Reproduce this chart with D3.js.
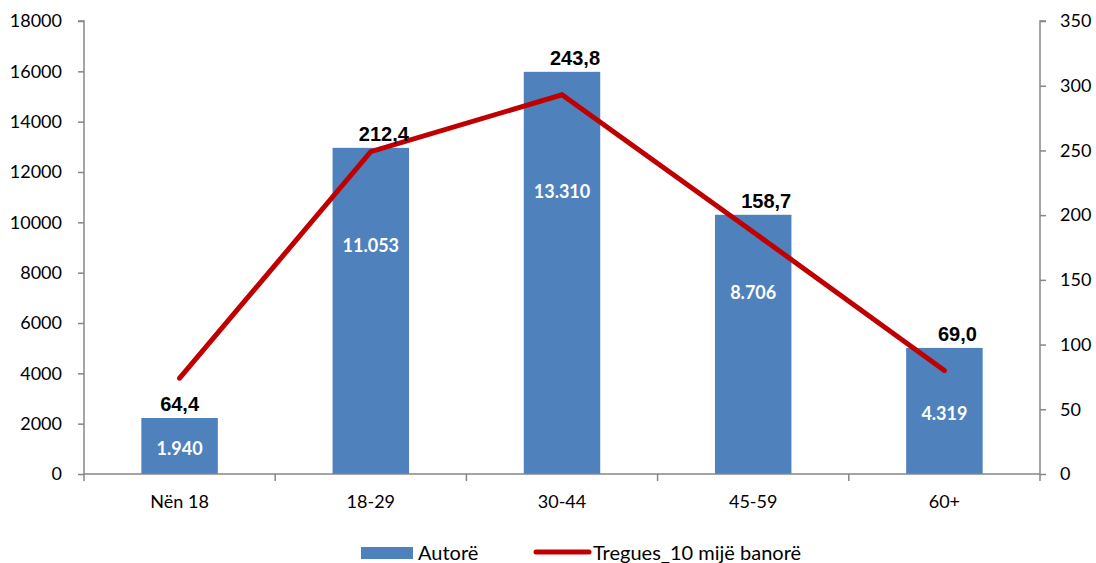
<!DOCTYPE html>
<html>
<head>
<meta charset="utf-8">
<script src="https://cdn.jsdelivr.net/npm/d3@7"></script>
<style>
  body { margin: 0; background: #fff; }
  svg { display: block; }
</style>
</head>
<body>
<script>
// chart data
var categories = ["Nën 18", "18-29", "30-44", "45-59", "60+"];
var autore = [2225, 12960, 15980, 10300, 5010];          // bar heights as drawn
var autoreLabels = ["1.940", "11.053", "13.310", "8.706", "4.319"];
var tregues = [74, 249, 293, 187, 80];                    // line points as drawn
var treguesLabels = ["64,4", "212,4", "243,8", "158,7", "69,0"];
var leftTicks = [0, 2000, 4000, 6000, 8000, 10000, 12000, 14000, 16000, 18000];
var rightTicks = [0, 50, 100, 150, 200, 250, 300, 350];

var width = 1096;
var height = 563;
var plotLeft = 84, plotRight = 1040, plotTop = 21, plotBottom = 474;
var axisColor = "#868686";
var font = "Lato, 'Open Sans', sans-serif";

var svg = d3.select("body").append("svg")
    .attr("width", width)
    .attr("height", height);

var x = d3.scaleBand()
    .domain(categories)
    .range([plotLeft, plotRight])
    .paddingInner(0.6)
    .paddingOuter(0.3);

var yLeft = d3.scaleLinear().domain([0, 18000]).range([plotBottom, plotTop]);
var yRight = d3.scaleLinear().domain([0, 350]).range([plotBottom, plotTop]);

// bars
svg.selectAll("rect.bar")
    .data(autore)
    .enter().append("rect")
    .attr("class", "bar")
    .attr("x", function(d, i) { return x(categories[i]); })
    .attr("y", function(d) { return yLeft(d); })
    .attr("width", x.bandwidth())
    .attr("height", function(d) { return plotBottom - yLeft(d); })
    .attr("fill", "#4F81BD");

// white labels inside bars
svg.selectAll("text.inner")
    .data(autore)
    .enter().append("text")
    .attr("class", "inner")
    .attr("x", function(d, i) { return x(categories[i]) + x.bandwidth() / 2; })
    .attr("y", function(d) {
        var h = plotBottom - yLeft(d);
        if (h > 200) return yLeft(d) + h * 0.3 + 6;
        return yLeft(d) + h / 2 + 9;
    })
    .attr("text-anchor", "middle")
    .attr("font-family", font)
    .attr("font-weight", "bold")
    .attr("font-size", 18)
    .attr("fill", "#ffffff")
    .text(function(d, i) { return autoreLabels[i]; });

// axes
var gLeft = svg.append("g")
    .attr("transform", "translate(" + plotLeft + ",0)")
    .call(d3.axisLeft(yLeft).tickValues(leftTicks).tickSize(6).tickPadding(16).tickFormat(d3.format("d")));

var gRight = svg.append("g")
    .attr("transform", "translate(" + plotRight + ",0)")
    .call(d3.axisRight(yRight).tickValues(rightTicks).tickSize(6).tickPadding(14));

var gBottom = svg.append("g")
    .attr("transform", "translate(0," + plotBottom + ")")
    .call(d3.axisBottom(x).tickSize(0).tickPadding(21));

[gLeft, gRight, gBottom].forEach(function(g) {
    g.select(".domain").attr("stroke", axisColor).attr("stroke-width", 1.5);
    g.selectAll(".tick line").attr("stroke", axisColor).attr("stroke-width", 1.5);
    g.selectAll(".tick text")
        .attr("fill", "#000")
        .attr("font-family", font)
        .attr("font-size", 18);
});
gLeft.select(".domain").attr("d", "M0," + plotBottom + "V" + plotTop + "h-6");
gRight.select(".domain").attr("d", "M0," + plotBottom + "V" + plotTop + "h6");
gBottom.select(".domain").attr("d", "M" + plotLeft + ",0H" + plotRight);

// category boundary ticks on x axis
var bounds = categories.map(function(c) { return x(c) - x.step() * x.paddingInner() / 2; });
bounds.push(plotRight);
gBottom.selectAll("line.bound")
    .data(bounds)
    .enter().append("line")
    .attr("class", "bound")
    .attr("x1", function(d) { return d; })
    .attr("x2", function(d) { return d; })
    .attr("y1", 0)
    .attr("y2", 7)
    .attr("stroke", axisColor)
    .attr("stroke-width", 1.5);

// line
var line = d3.line()
    .x(function(d, i) { return x(categories[i]) + x.bandwidth() / 2; })
    .y(function(d) { return yRight(d); });

svg.append("path")
    .datum(tregues)
    .attr("d", line)
    .attr("fill", "none")
    .attr("stroke", "#C00000")
    .attr("stroke-width", 5)
    .attr("stroke-linecap", "round")
    .attr("stroke-linejoin", "miter");

// black labels above bars
svg.selectAll("text.outer")
    .data(autore)
    .enter().append("text")
    .attr("class", "outer")
    .attr("x", function(d, i) { return x(categories[i]) + x.bandwidth() / 2 + (i == 0 ? 0 : 13); })
    .attr("y", function(d) { return yLeft(d) - 7; })
    .attr("text-anchor", "middle")
    .attr("font-family", "'Liberation Sans', Arial, sans-serif")
    .attr("font-weight", "bold")
    .attr("font-size", 20)
    .attr("fill", "#000")
    .text(function(d, i) { return treguesLabels[i]; });

// legend
var legend = svg.append("g");
legend.append("rect")
    .attr("x", 361).attr("y", 547)
    .attr("width", 52).attr("height", 12)
    .attr("fill", "#4F81BD");
legend.append("text")
    .attr("x", 418).attr("y", 560)
    .attr("font-family", font)
    .attr("font-size", 20)
    .text("Autorë");
legend.append("line")
    .attr("x1", 536).attr("x2", 589)
    .attr("y1", 552).attr("y2", 552)
    .attr("stroke", "#C00000")
    .attr("stroke-width", 5)
    .attr("stroke-linecap", "round");
legend.append("text")
    .attr("x", 593).attr("y", 560)
    .attr("font-family", font)
    .attr("font-size", 20)
    .text("Tregues_10 mijë banorë");
</script>
</body>
</html>
